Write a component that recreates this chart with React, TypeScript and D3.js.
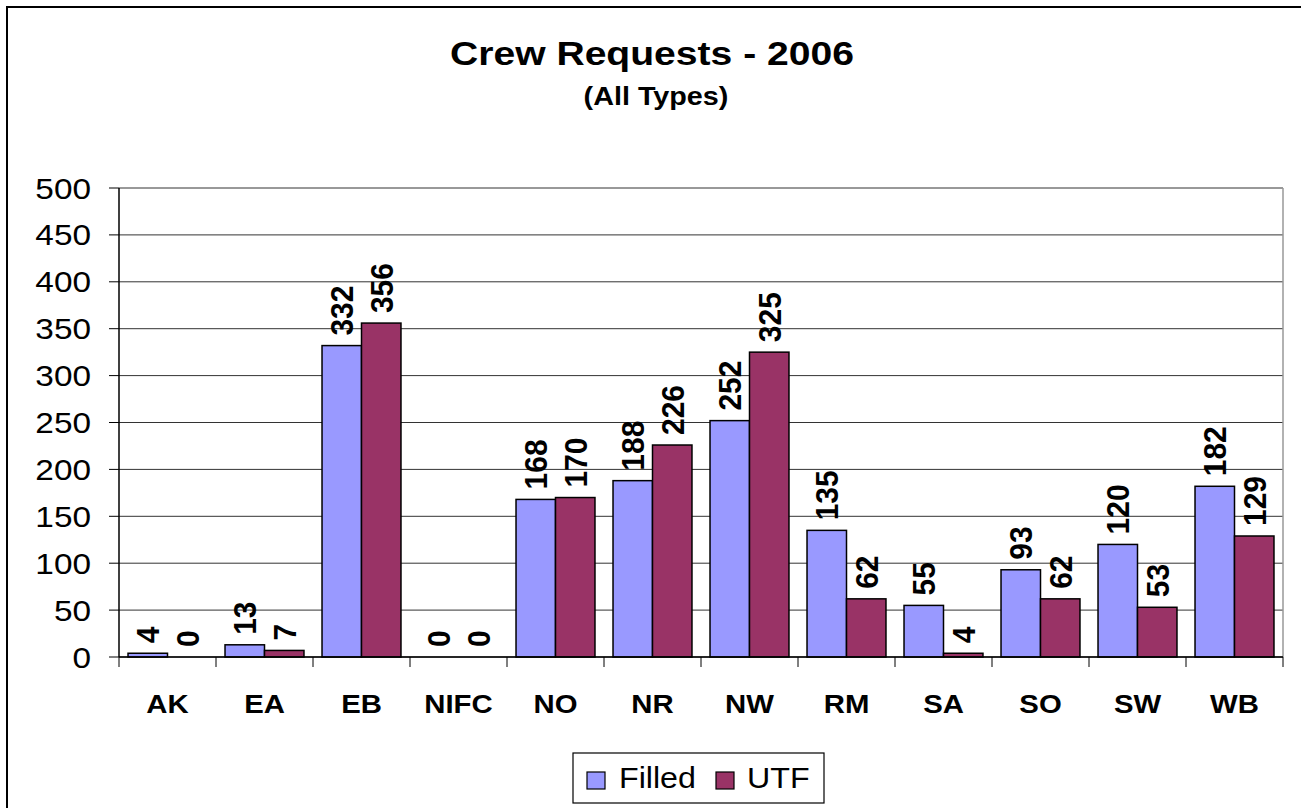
import React from "react";
import * as d3 from "d3";

const categories = ["AK", "EA", "EB", "NIFC", "NO", "NR", "NW", "RM", "SA", "SO", "SW", "WB"];
const seriesNames = ["Filled", "UTF"];
const filledValues = [4, 13, 332, 0, 168, 188, 252, 135, 55, 93, 120, 182];
const utfValues = [0, 7, 356, 0, 170, 226, 325, 62, 4, 62, 53, 129];
const yTicks = [0, 50, 100, 150, 200, 250, 300, 350, 400, 450, 500];
const seriesColors = ["#9999FF", "#993366"];

const W = 1301;
const H = 808;
const plotLeft = 119;
const plotRight = 1283;
const plotTop = 188;
const plotBottom = 657;
const FONT = "'Liberation Sans', Arial, sans-serif";
const SX = 1.15;

export default function App() {
  const x0 = d3.scaleBand<string>().domain(categories).range([plotLeft, plotRight]).padding(0);
  const bw = x0.bandwidth();
  const x1 = d3.scaleBand<string>().domain(seriesNames).range([bw * 0.093, bw * 0.907]).padding(0);
  const y = d3.scaleLinear().domain([0, 500]).range([plotBottom, plotTop]);
  const seriesValues = [filledValues, utfValues];

  const boundaries = categories.map((c) => x0(c) as number).concat([plotRight]);

  return (
    <svg
      width={W}
      height={H}
      style={{ position: "absolute", left: 0, top: 0, background: "#fff" }}
      fontFamily={FONT}
    >
      <rect x={0} y={0} width={W} height={H} fill="#fff" />
      <rect x={7} y={7} width={1400} height={1000} fill="none" stroke="#000" strokeWidth={2} />

      {/* Title */}
      <g transform={`translate(652,65) scale(${SX},1)`}>
        <text textAnchor="middle" fontWeight="bold" fontSize={34} fill="#000">
          Crew Requests - 2006
        </text>
      </g>
      <g transform={`translate(656,105) scale(${SX},1)`}>
        <text textAnchor="middle" fontWeight="bold" fontSize={25} fill="#000">
          (All Types)
        </text>
      </g>

      {/* Gridlines */}
      {yTicks.map((t) => (
        <line key={"g" + t} x1={plotLeft} x2={plotRight} y1={y(t)} y2={y(t)} stroke="#333" strokeWidth={1} />
      ))}
      <line x1={plotRight} x2={plotRight} y1={plotTop} y2={plotBottom} stroke="#999" strokeWidth={1.5} />

      {/* Bars */}
      {seriesValues.map((vals, si) =>
        vals.map((v, i) => {
          const bx = (x0(categories[i]) as number) + (x1(seriesNames[si]) as number);
          const by = y(v);
          const h = plotBottom - by;
          return (
            <rect
              key={`b${si}-${i}`}
              x={bx}
              y={by}
              width={x1.bandwidth()}
              height={h}
              fill={seriesColors[si]}
              stroke="#000"
              strokeWidth={1.5}
            />
          );
        })
      )}

      {/* Value labels */}
      {seriesValues.map((vals, si) =>
        vals.map((v, i) => {
          const cx = (x0(categories[i]) as number) + (x1(seriesNames[si]) as number) + x1.bandwidth() / 2;
          const by = y(v) - 10;
          return (
            <g key={`l${si}-${i}`} transform={`translate(${cx},${by}) scale(1.07,1) rotate(-90)`}>
              <text x={0} y={0} dy="0.36em" textAnchor="start" fontWeight="bold" fontSize={30} fill="#000">
                {v}
              </text>
            </g>
          );
        })
      )}

      {/* Y axis */}
      <line x1={plotLeft} x2={plotLeft} y1={plotTop} y2={plotBottom} stroke="#000" strokeWidth={1.5} />
      {yTicks.map((t) => (
        <g key={"yt" + t}>
          <line x1={plotLeft - 10} x2={plotLeft} y1={y(t)} y2={y(t)} stroke="#000" strokeWidth={1} />
          <g transform={`translate(91,${y(t) + 10.5}) scale(${SX},1)`}>
            <text textAnchor="end" fontSize={29} fill="#000">
              {t}
            </text>
          </g>
        </g>
      ))}

      {/* X axis */}
      <line x1={plotLeft} x2={plotRight} y1={plotBottom} y2={plotBottom} stroke="#000" strokeWidth={1.5} />
      {boundaries.map((bx, i) => (
        <line key={"xt" + i} x1={bx} x2={bx} y1={plotBottom} y2={plotBottom + 10} stroke="#000" strokeWidth={1} />
      ))}
      {categories.map((c) => (
        <g key={"xl" + c} transform={`translate(${(x0(c) as number) + bw / 2},713) scale(${SX},1)`}>
          <text textAnchor="middle" fontWeight="bold" fontSize={25.5} fill="#000">
            {c}
          </text>
        </g>
      ))}

      {/* Legend */}
      <rect x={573} y={753} width={251} height={50} fill="#fff" stroke="#000" strokeWidth={1.2} />
      {seriesNames.map((s, si) => {
        const sxPos = [587, 716][si];
        const txPos = [619, 747][si];
        return (
          <g key={"lg" + s}>
            <rect x={sxPos} y={772} width={18} height={17} fill={seriesColors[si]} stroke="#000" strokeWidth={1.2} />
            <g transform={`translate(${txPos},788) scale(1.11,1)`}>
              <text fontSize={29} fill="#000">
                {s}
              </text>
            </g>
          </g>
        );
      })}
    </svg>
  );
}
